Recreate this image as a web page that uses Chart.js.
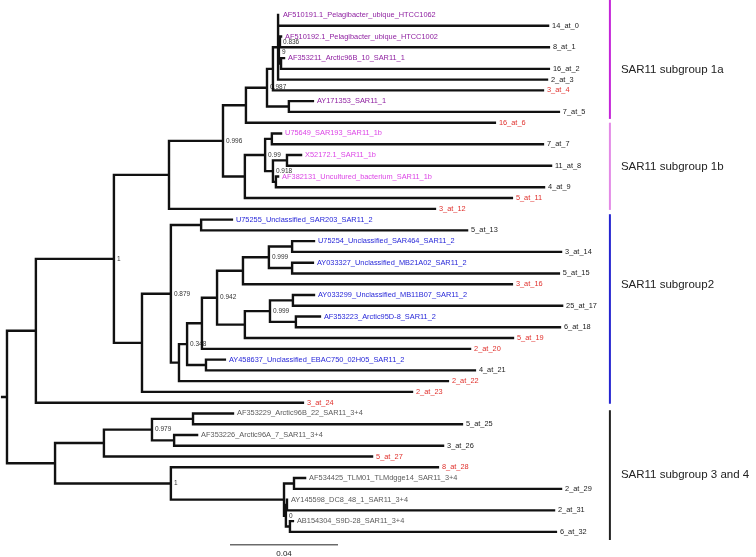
<!DOCTYPE html>
<html>
<head>
<meta charset="utf-8">
<script src="https://cdn.jsdelivr.net/npm/chart.js@4.4.0/dist/chart.umd.min.js"></script>
<style>
  html, body { margin: 0; padding: 0; background: #fff; }
  #wrap { width: 756px; height: 557px; position: relative; }
</style>
</head>
<body>
<div id="wrap"><canvas id="tree"></canvas></div>
<script>
// SAR11 phylogeny - rectangular tree drawn on a linear distance axis

// tips, top to bottom
const leafNames = [
  'AF510191.1_Pelagibacter_ubique_HTCC1062', '14_at_0',
  'AF510192.1_Pelagibacter_ubique_HTCC1002', '8_at_1',
  'AF353211_Arctic96B_10_SAR11_1', '16_at_2', '2_at_3', '3_at_4',
  'AY171353_SAR11_1', '7_at_5', '16_at_6',
  'U75649_SAR193_SAR11_1b', '7_at_7', 'X52172.1_SAR11_1b', '11_at_8',
  'AF382131_Uncultured_bacterium_SAR11_1b', '4_at_9', '5_at_11', '3_at_12',
  'U75255_Unclassified_SAR203_SAR11_2', '5_at_13',
  'U75254_Unclassified_SAR464_SAR11_2', '3_at_14',
  'AY033327_Unclassified_MB21A02_SAR11_2', '5_at_15', '3_at_16',
  'AY033299_Unclassified_MB11B07_SAR11_2', '25_at_17',
  'AF353223_Arctic95D-8_SAR11_2', '6_at_18', '5_at_19', '2_at_20',
  'AY458637_Unclassified_EBAC750_02H05_SAR11_2', '4_at_21', '2_at_22',
  '2_at_23', '3_at_24',
  'AF353229_Arctic96B_22_SAR11_3+4', '5_at_25',
  'AF353226_Arctic96A_7_SAR11_3+4', '3_at_26', '5_at_27', '8_at_28',
  'AF534425_TLM01_TLMdgge14_SAR11_3+4', '2_at_29',
  'AY145598_DC8_48_1_SAR11_3+4', '2_at_31',
  'AB154304_S9D-28_SAR11_3+4', '6_at_32'
];
// a/b/c/d = reference sequence of group 1a/1b/2/3+4, k = sample, r = flagged sample
const leafKind = [
  'a','k','a','k','a','k','k','r','a','k','r',
  'b','k','b','k','b','k','r','r',
  'c','k','c','k','c','k','r','c','k','c','k','r','r','c','k','r','r','r',
  'd','k','d','k','r','r','d','k','d','k','d','k'
];
const leafParent = [
  'n1','n1','n1b','n1b','n1c','n1c','n1','n2','n4','n4','n5',
  'n9','n9','n11','n11','n12','n12','n7','n13',
  'n17','n17','n26','n26','n27','n27','n23','n29','n29','n30','n30','n24','n20',
  'n21','n21','n18','n15','n31',
  'n36','n36','n37','n37','n33','n34','n39','n39','n41','n41','n40','n40'
];
// distance from root (substitutions per site)
const leafDepth = [
  0.1007, 0.2004, 0.1015, 0.2007, 0.1026, 0.2007, 0.2000, 0.1985,
  0.1133, 0.2044, 0.1807,
  0.1015, 0.1985, 0.1089, 0.2015, 0.1004, 0.1989, 0.1870, 0.1585,
  0.0833, 0.1704, 0.1137, 0.2052, 0.1133, 0.2044, 0.1870,
  0.1137, 0.2056, 0.1159, 0.2048, 0.1874, 0.1715,
  0.0807, 0.1733, 0.1633, 0.1500, 0.1096,
  0.0837, 0.1685, 0.0704, 0.1615, 0.1352, 0.1596,
  0.1104, 0.2052, 0.1037, 0.2026, 0.1059, 0.2033
];

// internal nodes
const nodeNames = [
  'root','n31','n14','n13','n6','n5','n3','n2','n1','n1d','n1b','n1c','n4',
  'n7','n8','n9','n10','n11','n12',
  'n15','n16','n17','n18','n19','n20','n21','n22','n23','n24','n25','n26','n27',
  'n28','n29','n30',
  'n32','n33','n35','n36','n37','n34','n38','n39','n42','n41','n40'
];
const nodeParent = [
  null,'root','n31','n14','n13','n6','n5','n3','n2','n1','n1d','n1d','n3',
  'n6','n7','n8','n8','n10','n10',
  'n14','n15','n16','n16','n18','n19','n19','n20','n22','n22','n23','n25','n25',
  'n24','n28','n28',
  'root','n32','n33','n35','n35','n32','n34','n38','n38','n42','n42'
];
const nodeDepth = [
  0, 0.0107, 0.0396, 0.0600, 0.0800, 0.0885, 0.0963, 0.0985, 0.1004, 0.1007,
  0.1011, 0.1015, 0.1044,
  0.0881, 0.0956, 0.0981, 0.0985, 0.1037, 0.0996,
  0.0500, 0.0607, 0.0719, 0.0637, 0.0667, 0.0722, 0.0737, 0.0778, 0.0874,
  0.0881, 0.0970, 0.1056, 0.1056, 0.0974, 0.1059, 0.1070,
  0.0178, 0.0359, 0.0537, 0.0689, 0.0619, 0.0607, 0.1026, 0.1063, 0.1033,
  0.1037, 0.1048
];
const rootStem = 0.0018;

// posterior support shown at nodes
const supportNode = ['n1b','n1d','n3','n6','n8','n10','n14','n16','n22','n25','n28','n19','n35','n34','n42'];
const supportText = ['0.836','9','0.987','0.996','0.99','0.918','1','0.879','0.942','0.999','0.999','0.348','0.979','1','0'];

// clade brackets (in tip rows)
const groupNames = ['SAR11 subgroup 1a', 'SAR11 subgroup 1b', 'SAR11 subgroup2', 'SAR11 subgroup 3 and 4'];
const groupFrom = [-1.4, 10.0, 18.5, 36.7];
const groupTo = [9.65, 18.1, 36.1, 48.75];
const groupLabelAt = [5.1, 14.1, 25.1, 42.7];

const scaleBarLength = 0.04;

// ---- styles
const kindColor = { a: '#8e1fa0', b: '#dc45e6', c: '#2626d8', d: '#5a5a5a', k: '#222', r: '#e0302c' };
const groupColor = ['#c424d8', '#e38ae6', '#2424d0', '#222'];
const FONT = '"Liberation Sans", Arial, sans-serif';
const bracketDepth = 0.2233;
const scaleBarAt = { x: 0.0826, y: 49.2 };

// ---- tree geometry
const yOf = {};
const xOf = {};
const kids = {};
nodeNames.forEach((n, i) => { xOf[n] = nodeDepth[i]; kids[n] = []; });
leafNames.forEach((n, i) => { yOf['leaf' + i] = i; xOf['leaf' + i] = leafDepth[i]; kids[leafParent[i]].push('leaf' + i); });
nodeNames.forEach((n, i) => { if (nodeParent[i]) kids[nodeParent[i]].push(n); });

function nodeY(n) {
  if (yOf[n] !== undefined) return yOf[n];
  const ys = kids[n].map(nodeY);
  yOf[n] = (Math.min(...ys) + Math.max(...ys)) / 2;
  return yOf[n];
}
nodeY('root');

const segments = [];
const gap = { x: null, y: null };
// stem into root
segments.push({ x: -rootStem, y: yOf.root }, { x: 0, y: yOf.root }, gap);
nodeNames.forEach(n => {
  const ys = kids[n].map(c => yOf[c]);
  segments.push({ x: xOf[n], y: Math.min(...ys) }, { x: xOf[n], y: Math.max(...ys) }, gap);
  kids[n].forEach(c => {
    segments.push({ x: xOf[n], y: yOf[c] }, { x: xOf[c], y: yOf[c] }, gap);
  });
});

const treeText = {
  id: 'treeText',
  beforeDatasetsDraw(chart) {
    const { ctx, scales: { x, y } } = chart;
    ctx.save();
    ctx.font = '6.5px ' + FONT;
    ctx.fillStyle = '#333';
    ctx.textBaseline = 'middle';
    supportNode.forEach((n, i) => {
      ctx.fillText(supportText[i], x.getPixelForValue(xOf[n]) + 3, y.getPixelForValue(yOf[n]));
    });
    ctx.restore();
  },
  afterDatasetsDraw(chart) {
    const { ctx, scales: { x, y } } = chart;
    ctx.save();
    ctx.textBaseline = 'middle';
    ctx.font = '7.4px ' + FONT;
    leafNames.forEach((name, i) => {
      ctx.fillStyle = kindColor[leafKind[i]];
      ctx.fillText(name, x.getPixelForValue(leafDepth[i]) + 4, y.getPixelForValue(i));
    });

    const bx = x.getPixelForValue(bracketDepth);
    ctx.lineWidth = 2;
    groupNames.forEach((g, i) => {
      ctx.strokeStyle = groupColor[i];
      ctx.beginPath();
      ctx.moveTo(bx, y.getPixelForValue(groupFrom[i]));
      ctx.lineTo(bx, y.getPixelForValue(groupTo[i]));
      ctx.stroke();
      ctx.fillStyle = '#222';
      ctx.font = '11.5px ' + FONT;
      ctx.fillText(g, bx + 11, y.getPixelForValue(groupLabelAt[i]));
    });

    // scale bar
    const sx0 = x.getPixelForValue(scaleBarAt.x);
    const sx1 = x.getPixelForValue(scaleBarAt.x + scaleBarLength);
    const sy = y.getPixelForValue(scaleBarAt.y);
    ctx.strokeStyle = '#222';
    ctx.lineWidth = 1;
    ctx.beginPath();
    ctx.moveTo(sx0, sy);
    ctx.lineTo(sx1, sy);
    ctx.stroke();
    ctx.fillStyle = '#222';
    ctx.font = '8px ' + FONT;
    ctx.textAlign = 'center';
    ctx.fillText(String(scaleBarLength), (sx0 + sx1) / 2, sy + 9);
    ctx.restore();
  }
};

new Chart(document.getElementById('tree'), {
  type: 'scatter',
  data: {
    datasets: [{
      data: segments,
      showLine: true,
      spanGaps: false,
      borderColor: '#111',
      borderWidth: 2.4,
      borderCapStyle: 'square',
      pointRadius: 0,
      pointHoverRadius: 0
    }]
  },
  options: {
    responsive: true,
    maintainAspectRatio: false,
    animation: false,
    layout: { padding: 0 },
    plugins: { legend: { display: false }, tooltip: { enabled: false } },
    scales: {
      x: { type: 'linear', min: -0.00259, max: 0.27741, display: false },
      y: { type: 'linear', reverse: true, min: -1.393, max: 50.33, display: false }
    }
  },
  plugins: [treeText]
});
</script>
</body>
</html>
